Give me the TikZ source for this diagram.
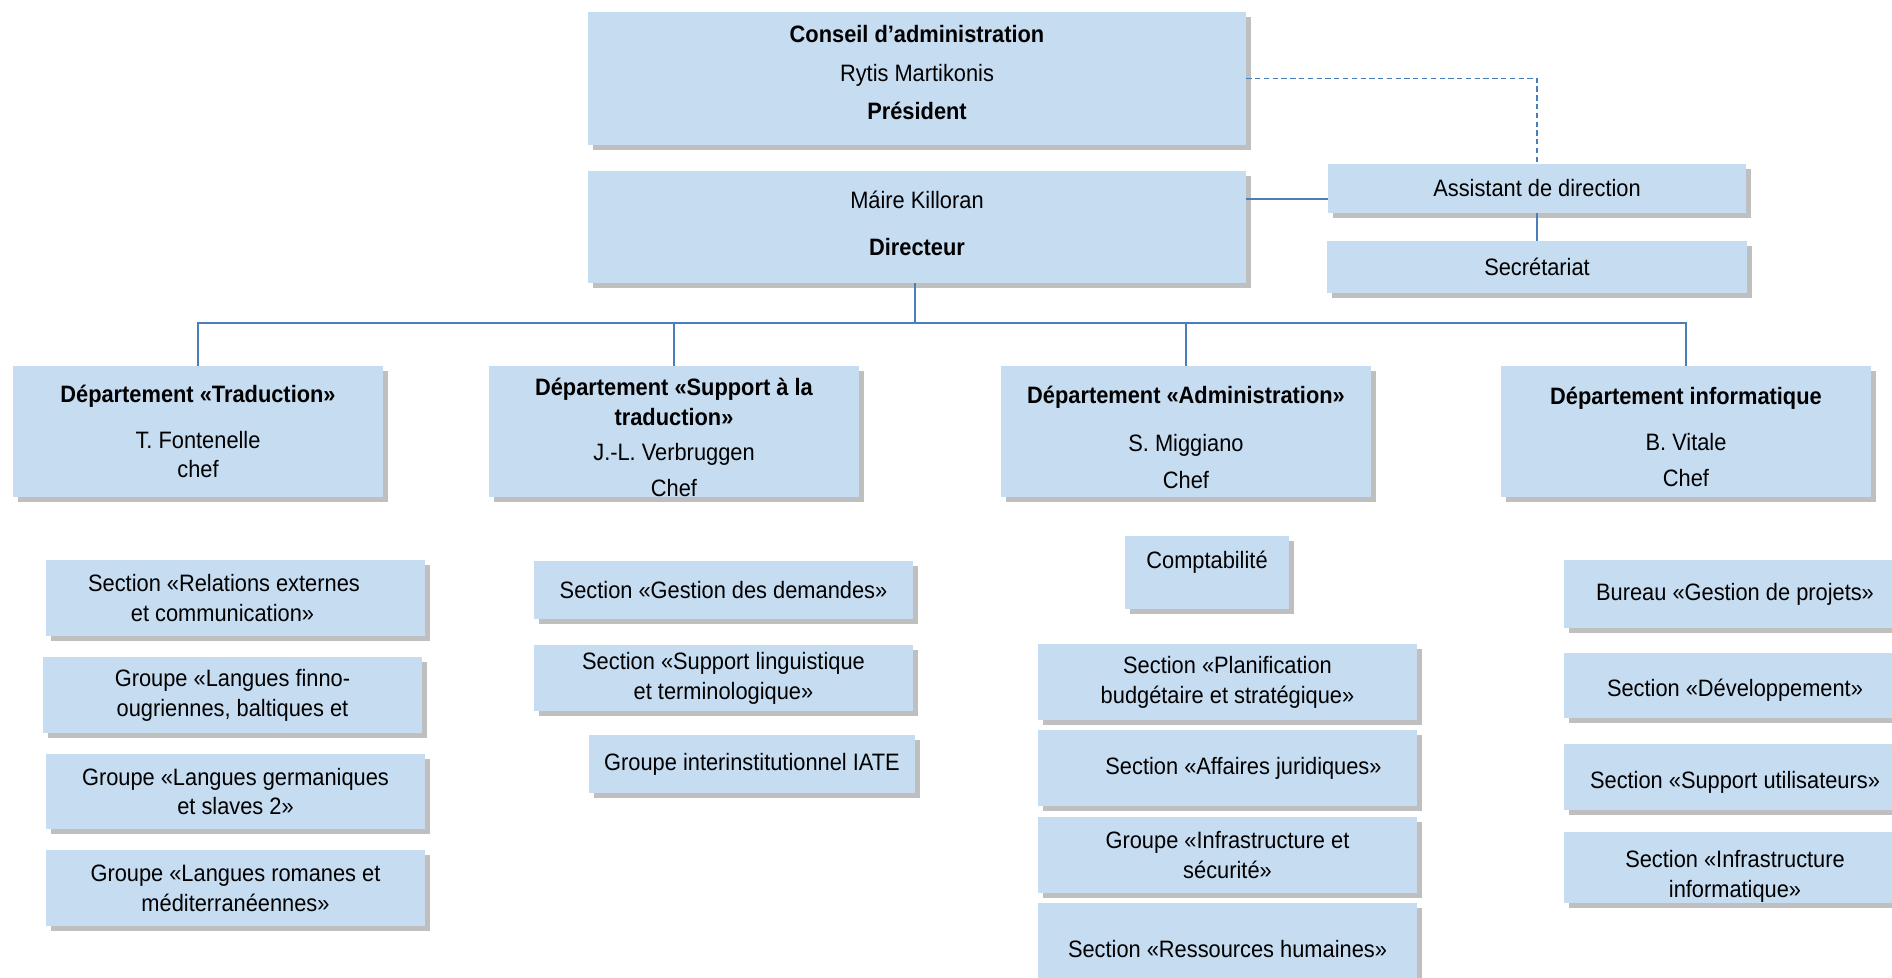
\documentclass[tikz,border=0pt]{standalone}
\usepackage{fontspec}
\setmainfont{Liberation Sans}[FakeStretch=0.92]
\usepackage{tikz}
\usetikzlibrary{shadows, positioning}
\definecolor{boxblue}{RGB}{198,220,241}
\definecolor{shadowgrey}{RGB}{191,191,191}
\definecolor{linkblue}{RGB}{74,126,187}
\newcommand{\pushdown}[1]{\rule{0pt}{\dimexpr0.35cm+#1\relax}}
\newcommand{\pushup}[1]{\rule[-#1]{0pt}{#1}}
\tikzstyle{orgbox} = [rectangle, fill=boxblue, inner sep=0pt, align=center, font=\fontsize{13.5}{17}\selectfont, drop shadow={shadow xshift=0.1cm, shadow yshift=-0.1cm, fill=shadowgrey, opacity=1}]
\tikzstyle{deptbox} = [orgbox, minimum width=7.4cm, minimum height=2.62cm]
\tikzstyle{subbox} = [orgbox, minimum width=7.58cm, minimum height=1.52cm]
\tikzstyle{itbox} = [orgbox, minimum width=6.84cm, minimum height=1.3cm]
\tikzstyle{link} = [draw=linkblue, line width=1.1pt]
\tikzstyle{dashlink} = [link, dash pattern=on 3pt off 2pt]

\begin{document}
\begin{tikzpicture}[x=0.02cm, y=-0.02cm]
    \clip (0,0) rectangle (1892,977);
    % direction
    \node (conseil) [orgbox, minimum width=13.16cm, minimum height=2.66cm] at (917,78.5) {\textbf{Conseil d’administration}\\[0.18cm] Rytis Martikonis\\[0.16cm] \textbf{Président}\pushup{0.24cm}};
    \node (directeur) [orgbox, minimum width=13.16cm, minimum height=2.24cm] at (917,227) {Máire Killoran\\[0.34cm] \textbf{Directeur}\pushup{0.16cm}};
    \node (assistant) [orgbox, minimum width=8.36cm, minimum height=0.98cm] at (1537,188.5) {Assistant de direction};
    \node (secretariat) [orgbox, minimum width=8.4cm, minimum height=1.04cm] at (1537,267) {Secrétariat};

    % departements
    \node (trad) [deptbox] at (198,431.5) {\textbf{Département «Traduction»}\\[0.32cm] T. Fontenelle\\ chef};
    \node (support) [deptbox] at (674,431.5) {\pushdown{0.24cm}\textbf{Département «Support à la}\\ \textbf{traduction»}\\[0.1cm] J.-L. Verbruggen\\[0.12cm] Chef};
    \node (admin) [deptbox] at (1186,431.5) {\pushdown{0.24cm}\textbf{Département «Administration»}\\[0.36cm] S. Miggiano\\[0.14cm] Chef};
    \node (info) [deptbox] at (1686,431.5) {\pushdown{0.2cm}\textbf{Département informatique}\\[0.32cm] B. Vitale\\[0.12cm] Chef};

    % traduction
    \node (relations) [subbox] at (235.5,598) {Section «Relations externes\hspace*{0.46cm}\\ et communication»\hspace*{0.52cm}};
    \node (finno) [subbox] at (232.5,695) {Groupe «Langues finno-\\ ougriennes, baltiques et};
    \node (germ) [subbox, minimum height=1.5cm] at (235.5,791.5) {Groupe «Langues germaniques\\ et slaves 2»};
    \node (romanes) [subbox] at (235.5,888) {Groupe «Langues romanes et\\ méditerranéennes»};

    % support a la traduction
    \node (demandes) [subbox, minimum height=1.16cm] at (723.5,590) {Section «Gestion des demandes»};
    \node (linguistique) [subbox, minimum height=1.32cm] at (723.5,678) {Section «Support linguistique\\ et terminologique»};
    \node (iate) [orgbox, minimum width=6.52cm, minimum height=1.16cm] at (752,764) {Groupe interinstitutionnel IATE};

    % administration
    \node (compta) [orgbox, minimum width=3.28cm, minimum height=1.46cm, text depth=0.5cm] at (1207,572.5) {Comptabilité};
    \node (budget) [subbox] at (1227.5,682) {Section «Planification\\ budgétaire et stratégique»};
    \node (juridique) [subbox] at (1227.5,768) {\hspace*{0.64cm}Section «Affaires juridiques»};
    \node (securite) [subbox] at (1227.5,855) {Groupe «Infrastructure et\\ sécurité»};
    \node (rh) [subbox] at (1227.5,941) {\pushdown{0.32cm}Section «Ressources humaines»};

    % informatique
    \node (projets) [itbox, minimum height=1.36cm] at (1735,594) {Bureau «Gestion de projets»};
    \node (dev) [itbox] at (1735,685.5) {\pushdown{0.2cm}Section «Développement»};
    \node (users) [itbox, minimum height=1.32cm] at (1735,777) {\pushdown{0.2cm}Section «Support utilisateurs»};
    \node (infrainfo) [itbox] at (1735,867.5) {\pushdown{0.36cm}Section «Infrastructure\\ informatique»};

    \draw [dashlink] (conseil.east) -| (assistant.north);
    \draw [link] ([yshift=-0.21cm]assistant.west) -- ([yshift=-0.21cm]assistant.west -| directeur.east);
    \draw [link] (assistant) -- (secretariat);
    \coordinate (bus) at (915,323);
    \draw [link] (directeur.south -| bus) -- (bus);
    \foreach \d in {trad, support, admin, info}
        \draw [link] (bus) -| (\d.north);
\end{tikzpicture}
\end{document}
